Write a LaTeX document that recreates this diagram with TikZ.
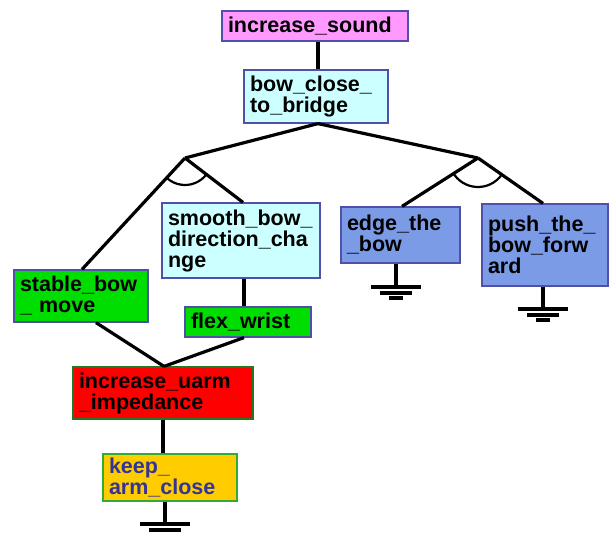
\documentclass[tikz,border=0pt]{standalone}
\usepackage{fontspec}
\setmainfont{Liberation Sans}
\usetikzlibrary{calc}
\definecolor{cpink}{HTML}{FF99FF}
\definecolor{ccyan}{HTML}{CCFFFF}
\definecolor{cgreen}{HTML}{00DD00}
\definecolor{cblue}{HTML}{7B9BE6}
\definecolor{cred}{HTML}{FF0000}
\definecolor{cyellow}{HTML}{FFCC00}
\definecolor{edgeblue}{HTML}{5050A8}
\definecolor{edgegreen}{HTML}{33AA33}
\definecolor{textblue}{HTML}{333399}
\tikzset{
  goal/.style={draw=edgeblue, line width=1.2pt, inner xsep=6pt, inner ysep=2pt,
    font=\fontsize{21.5}{21}\selectfont\bfseries, align=left, anchor=center},
  wire/.style={line width=3.2pt, line cap=butt},
  earth/.style={line width=3.2pt},
}
% ground symbol hanging below a coordinate
\newcommand{\groundat}[1]{%
  \draw[earth] ($(#1)+(-25,0)$) -- ($(#1)+(25,0)$);
  \draw[earth] ($(#1)+(-16,6)$) -- ($(#1)+(16,6)$);
  \draw[earth] ($(#1)+(-7,11)$) -- ($(#1)+(7,11)$);}
\begin{document}
\begin{tikzpicture}[x=1pt, y=-1pt]
\useasboundingbox (0,0) rectangle (611,533);

% goal boxes
\node[goal, fill=cpink, minimum width=186pt, minimum height=30pt, text width=174pt] (sound) at (315,26) {increase\_sound};
\node[goal, fill=ccyan, minimum width=144pt, minimum height=53pt, text width=132pt] (bow) at (316,96.5) {bow\_close\_\\to\_bridge};
\node[goal, fill=ccyan, minimum width=158pt, minimum height=75pt, text width=146pt] (smooth) at (241,240.5) {smooth\_bow\_\\direction\_cha\\nge};
\node[goal, fill=cgreen, minimum width=134pt, minimum height=52pt, text width=122pt] (stable) at (81,296) {stable\_bow\\\_ move};
\node[goal, fill=cgreen, minimum width=126pt, minimum height=30pt, text width=114pt] (flex) at (248,322) {flex\_wrist};
\node[goal, fill=cblue, minimum width=119pt, minimum height=56pt, text width=107pt] (edge) at (400.5,235) {edge\_the\\\_bow};
\node[goal, fill=cblue, minimum width=126pt, minimum height=82pt, text width=114pt] (push) at (545,245) {push\_the\_\\bow\_forw\\ard};
\node[goal, fill=cred, draw=edgegreen!70!black, minimum width=180pt, minimum height=52pt, text width=168pt] (uarm) at (163,393) {increase\_uarm\\\_impedance};
\node[goal, fill=cyellow, draw=edgegreen, text=textblue, minimum width=134pt, minimum height=47pt, text width=122pt] (keep) at (170,477.5) {keep\_\\arm\_close};

% junction points of the and-decompositions
\coordinate (jl) at (185,158);
\coordinate (jr) at (478,158);

% connectors
\draw[wire] ($(sound.south)+(3,0)$) -- ($(bow.north)+(2,0)$);
\draw[wire] ($(bow.south)+(2,0)$) -- (jl);
\draw[wire] ($(bow.south)+(2,0)$) -- (jr);
\draw[wire] (jl) -- ($(stable.north)+(1,0)$);
\draw[wire] (jl) -- ($(smooth.north)+(2,0)$);
\draw[wire] (jr) -- ($(edge.north)+(1.5,0)$);
\draw[wire] (jr) -- ($(push.north)+(-2,0)$);
\draw[wire] ($(smooth.south)+(3,0)$) -- ($(flex.north)+(-4,0)$);
\draw[wire] ($(stable.south)+(15,0)$) -- ($(uarm.north)+(1,0)$);
\draw[wire] ($(flex.south)+(-4,0)$) -- ($(uarm.north)+(1,0)$);
\draw[wire] (uarm.south) -- (uarm.south |- keep.north);

% and-arcs (y grows downward, so angles run clockwise on the page)
\draw[line width=2.2pt] ($(jl)+(37.8:27)$) arc[start angle=37.8, end angle=132.6, radius=27];
\draw[line width=2.2pt] ($(jr)+(34.7:29)$) arc[start angle=34.7, end angle=149.4, radius=29];

% ground terminals
\coordinate (gedge) at (396,287);
\coordinate (gpush) at (543,309);
\coordinate (gkeep) at (165,524);
\draw[wire] (edge.south -| gedge) -- (gedge);
\draw[wire] (push.south -| gpush) -- (gpush);
\draw[wire] (keep.south -| gkeep) -- (gkeep);
\groundat{gedge}
\groundat{gpush}
\groundat{gkeep}
\end{tikzpicture}
\end{document}
